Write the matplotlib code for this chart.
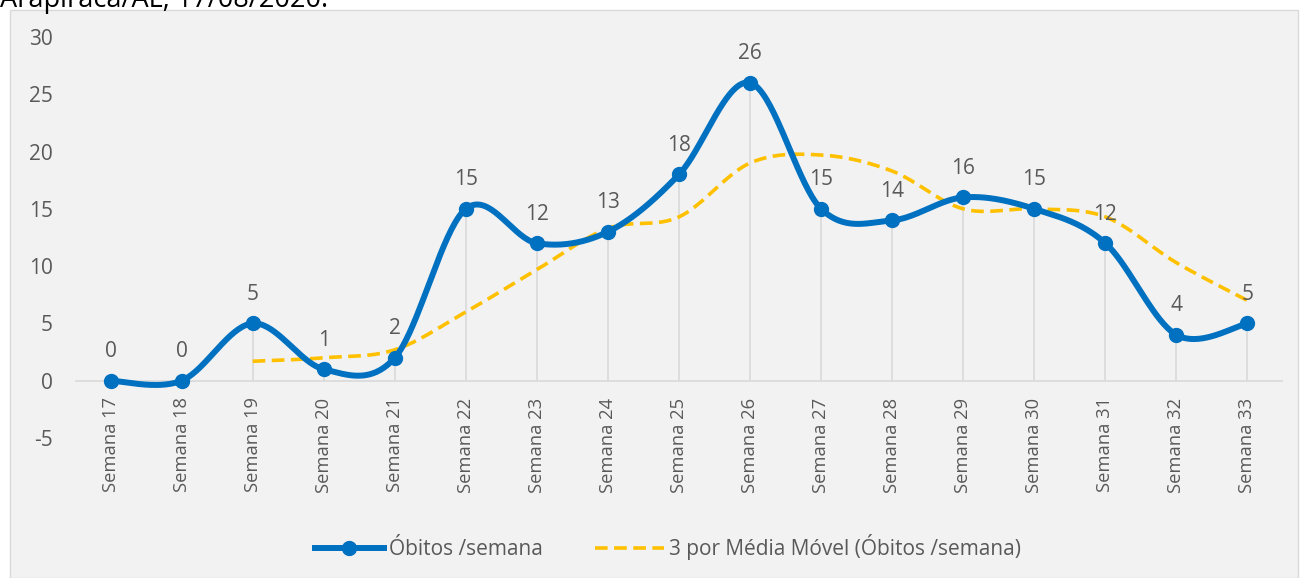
import numpy as np
import matplotlib
matplotlib.use("Agg")
import matplotlib.pyplot as plt
from matplotlib.patches import Rectangle

plt.rcParams["font.family"] = ["Open Sans", "DejaVu Sans"]
plt.rcParams["axes.unicode_minus"] = False

weeks = [f"Semana {n}" for n in range(17, 34)]
obitos = [0, 0, 5, 1, 2, 15, 12, 13, 18, 26, 15, 14, 16, 15, 12, 4, 5]
# 3-week moving average, starts at Semana 19
media_movel = [1.7, 2.0, 2.7, 6.0, 9.7, 13.3, 14.3, 19.0, 19.7, 18.3,
               15.0, 15.0, 14.3, 10.3, 7.0]
media_start = 2

BLUE = "#0070C0"
YELLOW = "#FFC000"
TEXT = "#595959"
FS = 15


def smooth(x, y, n=40):
    # Excel-style smoothed line: Catmull-Rom converted to cubic Bezier
    x = np.asarray(x, float)
    y = np.asarray(y, float)
    p = np.column_stack([x, y])
    out = [p[0]]
    t = np.linspace(0, 1, n)[1:, None]
    for i in range(len(p) - 1):
        p0 = p[i - 1] if i > 0 else p[i]
        p1, p2 = p[i], p[i + 1]
        p3 = p[i + 2] if i + 2 < len(p) else p[i + 1]
        c1 = p1 + (p2 - p0) / 6
        c2 = p2 - (p3 - p1) / 6
        seg = ((1 - t) ** 3 * p1 + 3 * (1 - t) ** 2 * t * c1
               + 3 * (1 - t) * t ** 2 * c2 + t ** 3 * p2)
        out.extend(seg)
    out = np.array(out)
    return out[:, 0], out[:, 1]


fig = plt.figure(figsize=(13.01, 5.78), dpi=100)
fig.patch.set_facecolor("white")
W, H = 1301, 578
fig.patches.append(Rectangle((10 / W, 0), (1298 - 10) / W, (H - 10) / H,
                             transform=fig.transFigure, facecolor="#F2F2F2",
                             edgecolor="#D9D9D9", linewidth=1, zorder=-1))
fig.text(0, 1 - 7 / H, "Arapiraca/AL, 17/08/2020.", fontsize=19.5,
         color="black", va="baseline", ha="left")

ax = fig.add_axes([75 / W, 1 - 438 / H, (1283 - 75) / W, (438 - 37) / H])
ax.set_facecolor("none")
for s in ax.spines.values():
    s.set_visible(False)

xs = np.arange(len(weeks))
ax.set_xlim(-0.5, len(weeks) - 0.5)
ax.set_ylim(-5, 30)
ax.set_yticks(range(-5, 31, 5))
ax.tick_params(axis="y", length=0, labelsize=FS, labelcolor=TEXT, pad=16)
ax.set_xticks([])

ax.axhline(0, color="#D9D9D9", linewidth=1.2, zorder=1)
ax.vlines(xs, 0, obitos, color="#D9D9D9", linewidth=1.2, zorder=1)

sx, sy = smooth(xs, obitos)
ax.plot(sx, sy, color=BLUE, linewidth=4.3, zorder=3, solid_capstyle="round")
ax.plot(xs, obitos, "o", color=BLUE, markersize=10, zorder=4)

mx = xs[media_start:]
smx, smy = smooth(mx, media_movel)
ax.plot(smx, smy, color=YELLOW, linewidth=2.6, dashes=(3.5, 1.8), zorder=2)

for xi, v in zip(xs, obitos):
    ax.annotate(str(v), (xi, v), xytext=(0, 21), textcoords="offset points",
                ha="center", va="center", fontsize=FS, color=TEXT, zorder=5)

for xi, lab in zip(xs, weeks):
    ax.annotate(lab, (xi, 0), xytext=(0, -12), textcoords="offset points",
                ha="center", va="top", rotation=90, fontsize=13.2,
                color=TEXT, annotation_clip=False)

h1, = ax.plot([], [], color=BLUE, linewidth=4.3, marker="o", markersize=10)
h2, = ax.plot([], [], color=YELLOW, linewidth=2.6, dashes=(3.5, 1.8))
leg = fig.legend([h1, h2], ["Óbitos /semana",
                            "3 por Média Móvel (Óbitos /semana)"],
                 loc="center", bbox_to_anchor=(668 / W, 1 - 547 / H), ncol=2,
                 frameon=False, fontsize=FS, handlelength=3.3,
                 handletextpad=0.25, columnspacing=2.5)
for t in leg.get_texts():
    t.set_color(TEXT)

fig.savefig("out.png", dpi=100)
